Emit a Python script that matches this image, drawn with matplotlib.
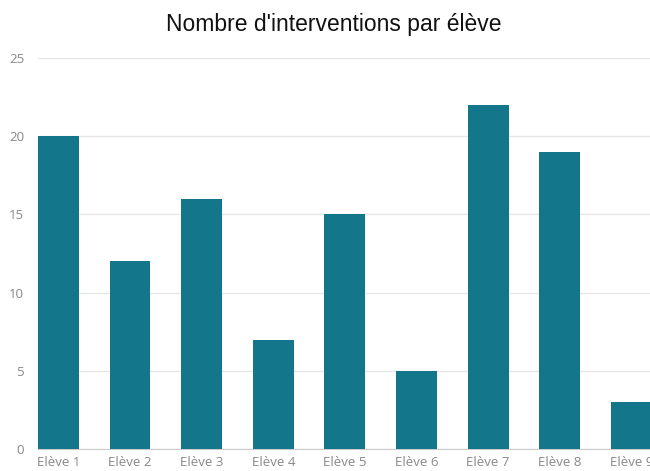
import matplotlib.pyplot as plt

# data
eleves = ["Elève 1", "Elève 2", "Elève 3", "Elève 4", "Elève 5",
          "Elève 6", "Elève 7", "Elève 8", "Elève 9"]
interventions = [20, 12, 16, 7, 15, 5, 22, 19, 3]

bar_color = "#13768A"

fig = plt.figure(figsize=(6.5, 4.71), dpi=100)
# axes run past the right edge, so the last bar is cut like in the original
ax = fig.add_axes([38 / 650, 22 / 471, (650 - 38) / 650, (449 - 58) / 471])

x = range(len(eleves))
ax.bar(x, interventions, width=0.57, color=bar_color, zorder=3)

ax.set_xlim(-0.285, 8.26)
ax.set_ylim(0, 25)
ax.set_yticks([0, 5, 10, 15, 20, 25])
ax.set_xticks(list(x))
ax.set_xticklabels(eleves)

ax.grid(axis="y", color="#e6e6e6", linewidth=1, zorder=0)
for side in ["top", "right", "left"]:
    ax.spines[side].set_visible(False)
ax.spines["bottom"].set_color("#cccccc")
ax.tick_params(axis="both", length=0, labelsize=9.5, labelcolor="#888888")
ax.tick_params(axis="y", pad=10)
ax.tick_params(axis="x", pad=5)
for lbl in ax.get_xticklabels() + ax.get_yticklabels():
    lbl.set_fontfamily("Open Sans")

fig.text(334 / 650, 1 - 25 / 471, "Nombre d'interventions par élève",
         ha="center", va="center", fontsize=16.5, family="Liberation Sans",
         color="#111111")

fig.savefig("out.png", dpi=100)
